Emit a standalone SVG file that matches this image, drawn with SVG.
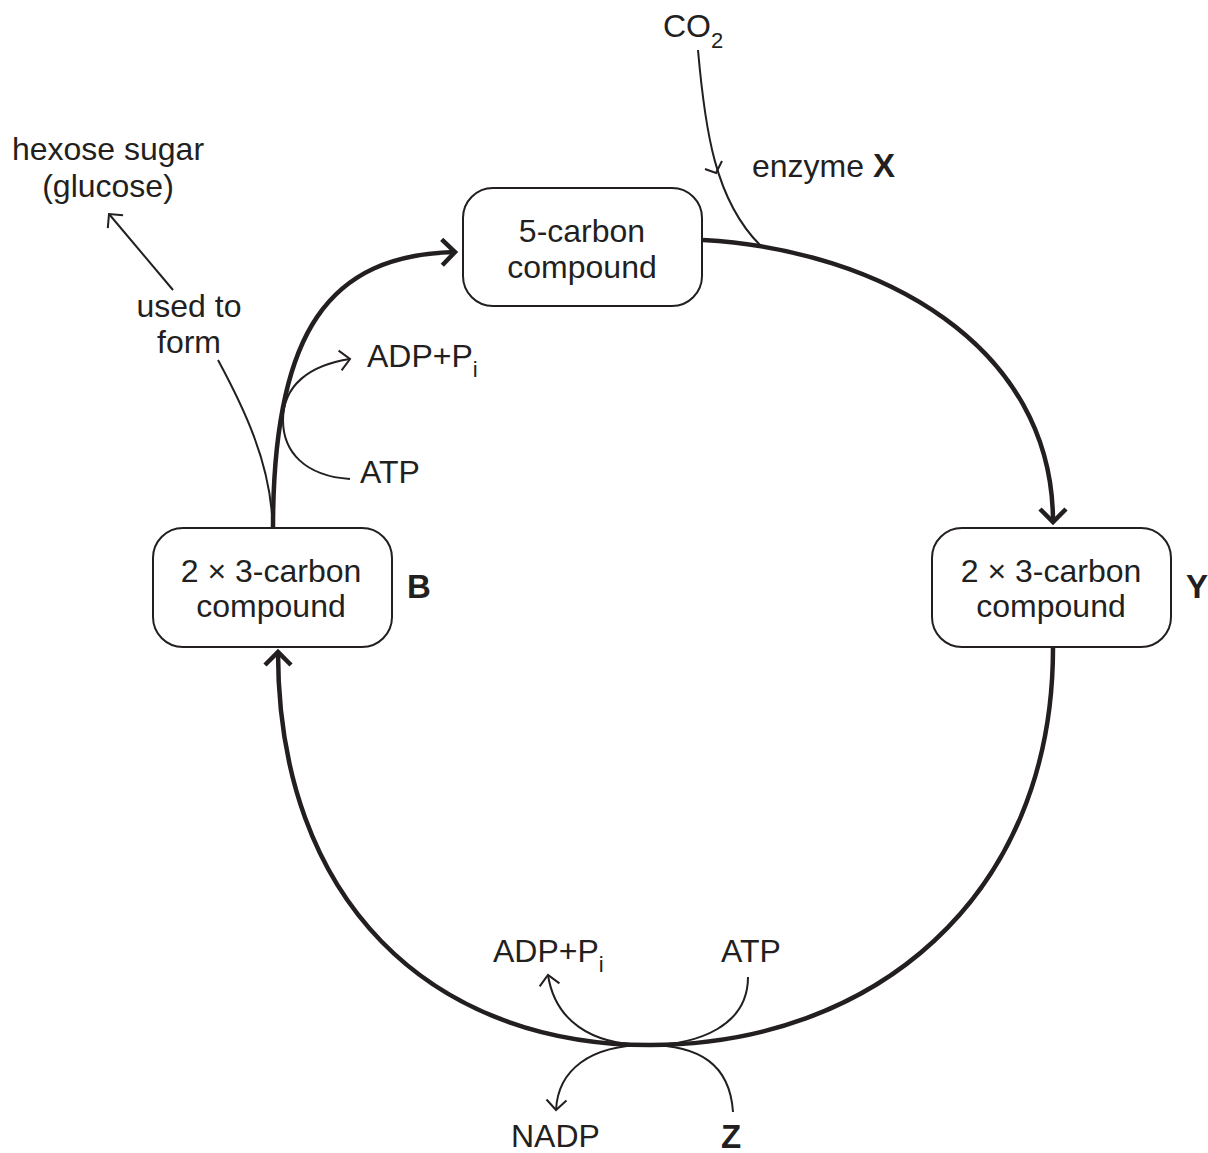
<svg xmlns="http://www.w3.org/2000/svg" width="1208" height="1153" viewBox="0 0 1208 1153">
<style>
text{font-family:"Liberation Sans",Arial,sans-serif;font-size:32px;fill:#231f20}
.b{font-weight:bold;font-size:33px}
.m{text-anchor:middle}
.box{fill:#fff;stroke:#231f20;stroke-width:2}
.thick{fill:none;stroke:#231f20;stroke-width:4.5}
.thin{fill:none;stroke:#231f20;stroke-width:2}
</style>
<defs>
<marker id="ah" markerUnits="userSpaceOnUse" markerWidth="40" markerHeight="40" refX="0" refY="0" viewBox="-20 -20 40 40" orient="auto" overflow="visible">
<path d="M-13,-13 L0,0 L-13,13" fill="none" stroke="#231f20" stroke-width="4.5"/>
</marker>
<marker id="at" markerUnits="userSpaceOnUse" markerWidth="30" markerHeight="30" refX="0" refY="0" viewBox="-15 -15 30 30" orient="auto" overflow="visible">
<path d="M-10,-10 L0,0 L-10,10" fill="none" stroke="#231f20" stroke-width="2"/>
</marker>
</defs>
<rect width="1208" height="1153" fill="#fff"/>
<g id="connectors">
<path class="thick" d="M703,240 C880,250 1053,345 1053,522" marker-end="url(#ah)"/>
<path class="thick" d="M1053,648 C1053,900 870,1045 650,1045 C430,1045 278,900 278,652" marker-end="url(#ah)"/>
<path class="thick" d="M273,528 C273,330 330,255 455,252" marker-end="url(#ah)"/>
<path class="thin" d="M698,50 C705,130 715,200 760,245"/>
<path class="thin" d="M705,169 L716,173 L722,161"/>
<path class="thin" d="M218,360 C245,410 268,460 272,515"/>
<path class="thin" d="M173,290 L109,214" marker-end="url(#at)"/>
<path class="thin" d="M350,479 C305,476 283,452 283,420 C283,385 310,365 350,359" marker-end="url(#at)"/>
<path class="thin" d="M748,977 C748,1025 700,1045 647,1045 C590,1045 555,1020 548,975" marker-end="url(#at)"/>
<path class="thin" d="M733,1112 C730,1065 700,1045 647,1045 C590,1045 558,1070 556,1110" marker-end="url(#at)"/>
</g>
<g id="node-5carbon">
<rect class="box" x="463" y="188" width="239" height="118" rx="30"/>
<text class="m" x="582" y="242">5-carbon</text>
<text class="m" x="582" y="278">compound</text>
</g>
<g id="node-B">
<rect class="box" x="153" y="528" width="239" height="119" rx="30"/>
<text class="m" x="271" y="582">2 × 3-carbon</text>
<text class="m" x="271" y="617">compound</text>
<text class="b" x="407" y="598">B</text>
</g>
<g id="node-Y">
<rect class="box" x="932" y="528" width="239" height="119" rx="30"/>
<text class="m" x="1051" y="582">2 × 3-carbon</text>
<text class="m" x="1051" y="617">compound</text>
<text class="b" x="1186" y="598">Y</text>
</g>
<g id="labels">
<text x="663" y="37">CO<tspan font-size="22" dy="11">2</tspan></text>
<text x="752" y="177">enzyme <tspan class="b">X</tspan></text>
<text class="m" x="108" y="160">hexose sugar</text>
<text class="m" x="108" y="197">(glucose)</text>
<text class="m" x="189" y="317">used to</text>
<text class="m" x="189" y="353">form</text>
<text x="367" y="367">ADP+P<tspan font-size="22" dy="10">i</tspan></text>
<text x="360" y="483">ATP</text>
<text x="493" y="962">ADP+P<tspan font-size="22" dy="10">i</tspan></text>
<text x="721" y="962">ATP</text>
<text x="511" y="1147">NADP</text>
<text class="b" x="721" y="1148">Z</text>
</g>
</svg>
